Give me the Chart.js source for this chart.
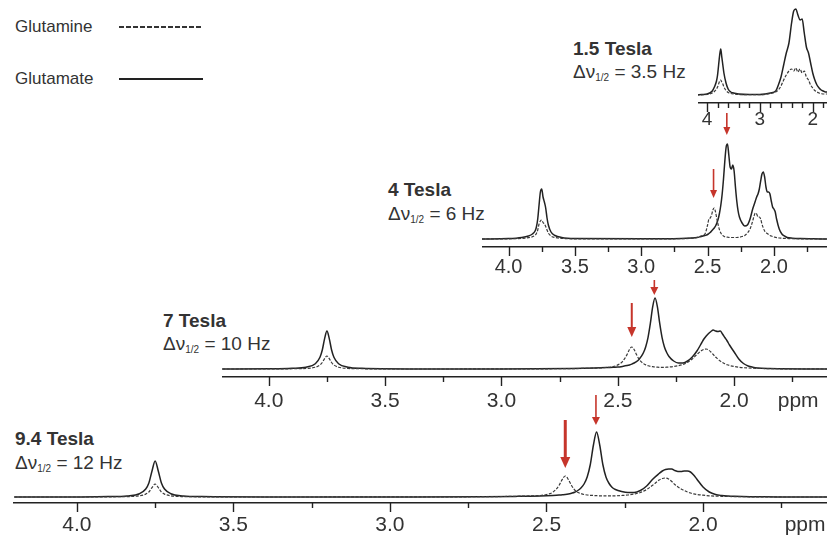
<!DOCTYPE html>
<html>
<head>
<meta charset="utf-8">
<script src="https://cdn.jsdelivr.net/npm/chart.js@4.4.1/dist/chart.umd.min.js"></script>
<style>
  body { margin: 0; background: #fff; width: 827px; height: 538px; overflow: hidden; position: relative;
         font-family: "Liberation Sans", Arial, sans-serif; color: #333; }
  canvas { position: absolute; }
  .t { position: absolute; white-space: nowrap; line-height: 1; }
  .b { font-weight: bold; }
  .t sub { font-size: 10px; line-height: 0; vertical-align: -3px; }
  .leg { position: absolute; height: 1.6px; }
</style>
</head>
<body>

<div class="t" style="left:15px; top:18px; font-size:17px;">Glutamine</div>
<div class="leg" style="left:119px; top:26px; width:84px; background: repeating-linear-gradient(to right, #333 0 5px, transparent 5px 7px);"></div>
<div class="t" style="left:15px; top:70px; font-size:17px;">Glutamate</div>
<div class="leg" style="left:119px; top:78px; width:84px; background:#222;"></div>

<div class="t b" style="left:573px; top:39px; font-size:19px;">1.5 Tesla</div>
<div class="t" style="left:573px; top:62px; font-size:19px;">Δν<sub>1/2</sub> = 3.5 Hz</div>
<div class="t b" style="left:388px; top:180px; font-size:19px;">4 Tesla</div>
<div class="t" style="left:388px; top:204px; font-size:19px;">Δν<sub>1/2</sub> = 6 Hz</div>
<div class="t b" style="left:163px; top:311px; font-size:19px;">7 Tesla</div>
<div class="t" style="left:163px; top:334px; font-size:19px;">Δν<sub>1/2</sub> = 10 Hz</div>
<div class="t b" style="left:15px; top:429px; font-size:19px;">9.4 Tesla</div>
<div class="t" style="left:15px; top:453px; font-size:19px;">Δν<sub>1/2</sub> = 12 Hz</div>

<canvas id="c15"></canvas>
<canvas id="c4"></canvas>
<canvas id="c7"></canvas>
<canvas id="c94"></canvas>

<script>
// chemical shift grids (ppm)
var ppmHi = [4.20, 4.00, 3.90, 3.84, 3.80, 3.78, 3.77, 3.76, 3.75, 3.74, 3.73, 3.72, 3.70, 3.66, 3.60, 3.40, 3.00,
  2.70, 2.60, 2.55, 2.52, 2.50, 2.48, 2.46,
  2.45, 2.44, 2.43, 2.42, 2.41, 2.40, 2.39, 2.38, 2.37, 2.36, 2.35, 2.34,
  2.33, 2.32, 2.31, 2.30, 2.29, 2.28, 2.26, 2.24, 2.22, 2.20,
  2.18, 2.16, 2.14, 2.13, 2.12, 2.11, 2.10, 2.09, 2.08, 2.07, 2.06, 2.05, 2.04, 2.03, 2.02,
  2.00, 1.98, 1.96, 1.94, 1.92, 1.90, 1.85, 1.80, 1.70, 1.60];

var ppm4 = [4.20, 4.00, 3.90, 3.85, 3.82, 3.80, 3.79, 3.78, 3.77, 3.76, 3.75, 3.74, 3.73, 3.72, 3.71, 3.70, 3.68, 3.65, 3.60, 3.50, 3.00,
  2.70, 2.62, 2.58, 2.55, 2.52, 2.50, 2.49, 2.48, 2.47, 2.46, 2.45, 2.44, 2.43, 2.42, 2.41, 2.40, 2.39, 2.38, 2.37, 2.36,
  2.35, 2.34, 2.33, 2.32, 2.31, 2.30, 2.29, 2.28, 2.27, 2.26, 2.24, 2.22, 2.20,
  2.18, 2.16, 2.15, 2.14, 2.13, 2.12, 2.11, 2.10, 2.09, 2.08, 2.07, 2.06, 2.05, 2.04, 2.03, 2.02, 2.01, 2.00, 1.99, 1.98,
  1.96, 1.94, 1.92, 1.90, 1.86, 1.80, 1.70, 1.60];

var ppm15 = [4.20, 4.10, 4.00, 3.95, 3.90, 3.86, 3.82, 3.80, 3.78, 3.76, 3.74, 3.72, 3.70, 3.68, 3.64, 3.60, 3.55, 3.50, 3.40, 3.20, 3.00,
  2.90, 2.80, 2.70, 2.65, 2.60, 2.55, 2.50, 2.45, 2.40, 2.36, 2.32, 2.28, 2.24, 2.20, 2.16,
  2.12, 2.08, 2.04, 2.00, 1.96, 1.92, 1.88, 1.84, 1.80, 1.76, 1.72];

// intensities (a.u.)
var glu94 = [0, 0.1, 0.4, 1.1, 3.3, 8, 14, 26, 36, 26, 14, 8, 3.3, 1.1, 0.4, 0.1, 0.1,
  0.3, 0.6, 0.8, 1.0, 1.2, 1.5, 1.9,
  2.2, 2.5, 3.0, 3.8, 4.8, 6.5, 9, 13, 20, 32.5, 52, 65,
  52, 32.5, 20, 13.5, 9.5, 7.5, 5.5, 4.5, 4.5, 6.5,
  11, 18, 23.5, 26, 27.5, 28, 28, 26.5, 25.5, 25.5, 26, 26, 25, 22, 18,
  10, 5, 2.5, 1.5, 1, 0.7, 0.3, 0.2, 0, 0];
var gln94 = [0, 0, 0.2, 0.4, 1.2, 2.9, 5, 9.4, 13, 9.4, 5, 2.9, 1.2, 0.4, 0.2, 0, 0.1,
  0.3, 0.7, 1.1, 1.5, 2.5, 4.7, 11.5,
  17.4, 21, 17.4, 11.5, 7, 4.7, 3.4, 2.5, 2.0, 1.7, 1.5, 1.3,
  1.2, 1.1, 1.1, 1.1, 1.1, 1.2, 1.5, 2.0, 3.0, 4.5,
  7.5, 12, 17, 18.5, 19, 18, 15.5, 12.5, 10, 8, 6.5, 5, 4, 3.2, 2.6,
  1.8, 1.2, 0.9, 0.7, 0.5, 0.4, 0.2, 0.1, 0, 0];

var glu7 = [0, 0.2, 0.7, 1.8, 5.2, 11.7, 19, 30.4, 38, 30.4, 19, 11.7, 5.2, 1.8, 0.7, 0.1, 0.1,
  0.6, 1.0, 1.4, 1.8, 2.0, 2.6, 3.4,
  4.0, 4.9, 6, 7.3, 9.3, 12.3, 16.2, 22.3, 31.7, 45.8, 62.4, 71,
  62.4, 45.8, 31.7, 22.3, 16.5, 12.5, 8, 6, 6, 8,
  12, 18, 26, 30, 33, 35.5, 37.5, 39, 38, 37.5, 38, 35, 31.5, 28, 24,
  17, 10, 5.5, 3, 1.8, 1.1, 0.5, 0.3, 0.1, 0];
var gln7 = [0, 0.1, 0.25, 0.6, 1.8, 4, 6.5, 10.4, 13, 10.4, 6.5, 4, 1.8, 0.6, 0.25, 0, 0.1,
  0.4, 0.9, 1.5, 2.4, 4.1, 7.4, 14.6,
  19.5, 22, 19.5, 14.6, 10.3, 7.4, 5.4, 4.1, 3.3, 2.7, 2.3, 2.0,
  1.8, 1.7, 1.7, 1.7, 1.8, 2.0, 2.5, 3.3, 4.6, 6.8,
  10, 14.5, 18.5, 19.7, 20, 19, 17, 14.5, 12, 10, 8, 6.5, 5.2, 4.2, 3.5,
  2.5, 1.8, 1.3, 1.0, 0.8, 0.6, 0.4, 0.2, 0.1, 0];

var glu4 = [0, 0.4, 1.5, 3, 5, 8, 12, 20, 34, 47, 50, 42, 37, 31, 21, 14, 7, 3.5, 1.5, 0.5, 0.2,
  0.5, 1, 1.5, 2.5, 3.5, 4.5, 5.5, 6.5, 8, 9.5, 11, 13, 16, 20, 26, 34, 45, 60, 78, 92,
  95, 84, 72, 70, 74, 68, 52, 38, 28, 22, 16, 13, 14,
  20, 30, 34, 38, 42, 45, 50, 58, 65, 67, 62, 52, 47, 47, 45, 38, 32, 30, 27, 20,
  10, 5, 3, 1.5, 0.8, 0.4, 0.2, 0];
var gln4 = [0, 0.2, 0.6, 1.3, 2.3, 3.8, 5.5, 9, 15, 18, 19, 16.5, 15, 12.5, 9, 6, 3, 1.5, 0.6, 0.2, 0.1,
  0.3, 0.8, 1.5, 3, 5, 14, 20, 21, 24, 29, 31, 27, 20, 14, 9, 6, 4, 3, 2.3, 2,
  1.8, 1.6, 1.5, 1.5, 1.5, 1.5, 1.5, 1.5, 1.6, 1.8, 2.5, 3.5, 6,
  10, 18, 23, 26, 25, 22, 22, 20, 15, 11, 8, 6.5, 5.5, 4.5, 3.5, 3, 2.5, 2, 1.7, 1.4,
  1, 0.8, 0.6, 0.5, 0.3, 0.2, 0.1, 0];

var glu15 = [0, 0.5, 1, 2, 4, 8, 14, 20, 30, 40, 46, 38, 30, 22, 12, 6, 3, 2, 1, 0.5, 0.5,
  1, 2, 4, 10, 18, 30, 42, 52, 72, 84, 86, 80, 75, 76, 62,
  48, 42, 32, 22, 15, 10, 7, 5, 4, 3, 3];
var gln15 = [0, 0.2, 0.5, 1, 2, 3.5, 6, 8, 11, 14, 15, 13, 11, 8, 4.5, 2.5, 1.5, 1, 0.5, 0.3, 0.3,
  0.6, 1.5, 3, 5, 9, 15, 20, 24, 26, 24, 27, 23, 26, 22, 24,
  18, 15, 10, 7, 4.5, 3, 2, 1.5, 1, 1, 1];

// axis ticks
var majorTicks = [4.0, 3.5, 3.0, 2.5, 2.0];
var minorTicks = [3.75, 3.25, 2.75, 2.25, 1.75];
var majorTicks15 = [4, 3, 2];
var minorTicks15 = [3.8, 3.6, 3.4, 3.2, 2.8, 2.6, 2.4, 2.2, 1.8];

// red arrows: [ppm, tail, tip]
var arrows94 = [[2.44, 77, 29], [2.342, 102, 72]];
var arrows7 = [[2.44, 66, 32], [2.343, 89, 74]];
var arrows4 = [[2.455, 70, 41], [2.355, 126, 104]];

var ink = '#222';
var red = '#c6352b';
var fontFam = '"Liberation Sans", Arial, sans-serif';

var panels = [
  { id: 'c15', left: 698, top: 0, bottom: 135, width: 129, axis: 103, base: 95, min: 1.73, max: 4.17,
    fs: 19, pad: 5, ppm: ppm15, glu: glu15, gln: gln15, major: majorTicks15, minor: minorTicks15, dec: 0,
    arrows: [], arrowStyle: [] },
  { id: 'c4', left: 482, top: 100, bottom: 290, width: 345, axis: 247, base: 239, min: 1.6, max: 4.2,
    fs: 20, pad: 8, ppm: ppm4, glu: glu4, gln: gln4, major: majorTicks, minor: minorTicks, dec: 1,
    arrows: arrows4, arrowStyle: [[1.6, 7, 8], [1.6, 7, 8]] },
  { id: 'c7', left: 222, top: 268, bottom: 420, width: 605, axis: 377, base: 369, min: 1.601, max: 4.201,
    fs: 21, pad: 12, ppm: ppmHi, glu: glu7, gln: gln7, major: majorTicks, minor: minorTicks, dec: 1,
    arrows: arrows7, arrowStyle: [[2, 9, 10], [1.6, 8, 8]], unit: 1.725 },
  { id: 'c94', left: 13, top: 388, bottom: 538, width: 814, axis: 503, base: 497, min: 1.604, max: 4.204,
    fs: 21, pad: 10, ppm: ppmHi, glu: glu94, gln: gln94, major: majorTicks, minor: minorTicks, dec: 1,
    arrows: arrows94, arrowStyle: [[3, 10, 11], [1.6, 8, 8]], unit: 1.674 }
];

function decor(p) {
  return {
    id: 'decor',
    afterDatasetsDraw: function (chart) {
      var ctx = chart.ctx, xs = chart.scales.x, ys = chart.scales.y;
      var yb = chart.chartArea.bottom;
      ctx.save();
      ctx.strokeStyle = ink;
      ctx.lineWidth = 1.4;
      xs.ticks.forEach(function (t) {
        var x = Math.round(xs.getPixelForValue(t.value)) + 0.5;
        var len = p.major.indexOf(t.value) >= 0 ? 9 : 5;
        ctx.beginPath();
        ctx.moveTo(x, yb);
        ctx.lineTo(x, yb + len);
        ctx.stroke();
      });
      if (p.unit) {
        ctx.fillStyle = '#333';
        ctx.font = p.fs + 'px ' + fontFam;
        ctx.textAlign = 'center';
        ctx.textBaseline = 'middle';
        ctx.fillText('ppm', xs.getPixelForValue(p.unit), yb + p.pad + p.fs * 0.6);
      }
      p.arrows.forEach(function (a, i) {
        var st = p.arrowStyle[i];
        var x = xs.getPixelForValue(a[0]);
        var y1 = ys.getPixelForValue(a[1]);
        var y2 = ys.getPixelForValue(a[2]);
        ctx.strokeStyle = red;
        ctx.fillStyle = red;
        ctx.lineWidth = st[0];
        ctx.beginPath();
        ctx.moveTo(x, y1);
        ctx.lineTo(x, y2 - st[2] + 1);
        ctx.stroke();
        ctx.beginPath();
        ctx.moveTo(x - st[1] / 2, y2 - st[2]);
        ctx.lineTo(x + st[1] / 2, y2 - st[2]);
        ctx.lineTo(x, y2);
        ctx.closePath();
        ctx.fill();
      });
      ctx.restore();
    }
  };
}

panels.forEach(function (p) {
  var cv = document.getElementById(p.id);
  var h = p.bottom - p.top;
  cv.width = p.width;
  cv.height = h;
  cv.style.left = p.left + 'px';
  cv.style.top = p.top + 'px';
  cv.style.width = p.width + 'px';
  cv.style.height = h + 'px';

  var tickVals = p.major.concat(p.minor).sort(function (a, b) { return a - b; });

  new Chart(cv.getContext('2d'), {
    type: 'line',
    data: {
      datasets: [
        {
          label: 'Glutamine',
          data: p.ppm.map(function (v, i) { return { x: v, y: p.gln[i] }; }),
          borderColor: '#3a3a3a',
          borderWidth: 1.2,
          borderDash: [3, 1.5],
          pointRadius: 0,
          cubicInterpolationMode: 'monotone',
          fill: false
        },
        {
          label: 'Glutamate',
          data: p.ppm.map(function (v, i) { return { x: v, y: p.glu[i] }; }),
          borderColor: ink,
          borderWidth: 1.5,
          pointRadius: 0,
          cubicInterpolationMode: 'monotone',
          fill: false
        }
      ]
    },
    options: {
      responsive: false,
      animation: false,
      events: [],
      layout: { padding: 0 },
      plugins: { legend: { display: false }, tooltip: { enabled: false } },
      scales: {
        x: {
          type: 'linear',
          reverse: true,
          min: p.min,
          max: p.max,
          position: 'bottom',
          border: { display: true, color: ink, width: 1.6 },
          grid: { display: false, drawTicks: false },
          afterBuildTicks: function (axis) {
            axis.ticks = tickVals.map(function (v) { return { value: v }; });
          },
          afterFit: function (axis) { axis.height = p.bottom - p.axis; },
          ticks: {
            autoSkip: false,
            maxRotation: 0,
            padding: p.pad,
            color: '#333',
            font: { family: fontFam, size: p.fs },
            callback: function (v) {
              return p.major.indexOf(v) >= 0 ? v.toFixed(p.dec) : '';
            }
          }
        },
        y: {
          display: false,
          min: -(p.axis - p.base),
          max: p.base - p.top
        }
      }
    },
    plugins: [decor(p)]
  });
});
</script>
</body>
</html>
